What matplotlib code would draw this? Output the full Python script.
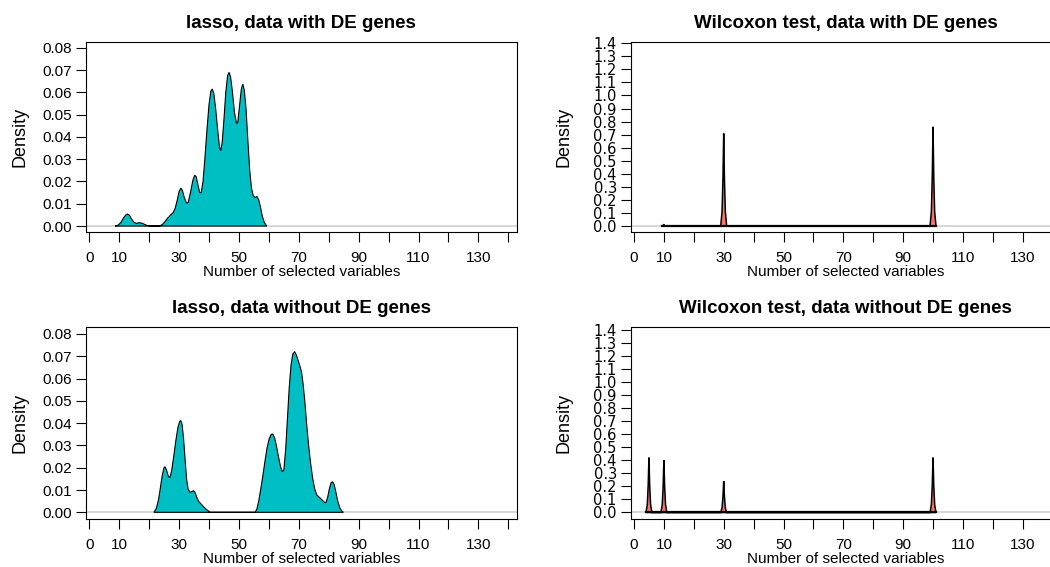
import matplotlib
matplotlib.use("Agg")
import matplotlib.pyplot as plt

plt.rcParams['font.family'] = ['Liberation Sans', 'DejaVu Sans']

# density curves
lasso_de_x = [8.6, 9.5, 10.5, 11.5, 12.3, 12.8, 13.4, 14.2, 15.0, 15.8, 16.6, 17.3, 18.2, 19.2,
              20.5, 23.5, 24.5, 25.3, 26.2, 27.2, 28.0, 28.7, 29.4, 30.0, 30.6, 31.1, 31.8, 32.5,
              33.0, 33.8, 34.6, 35.2, 35.7, 36.3, 36.9, 37.4, 38.0, 38.6, 39.3, 40.0, 40.6, 41.1,
              41.6, 42.2, 42.9, 43.5, 43.9, 44.4, 45.0, 45.6, 46.2, 46.7, 47.2, 47.8, 48.5, 49.2,
              49.6, 50.2, 50.8, 51.3, 51.8, 52.4, 53.0, 53.6, 54.2, 54.8, 55.4, 56.0, 56.6, 57.2,
              57.8, 58.5, 59.3]
lasso_de_y = [0.0, 0.0003, 0.0015, 0.0038, 0.0051, 0.0054, 0.0048, 0.0030, 0.0016, 0.0012, 0.0015,
              0.0014, 0.0009, 0.0003, 0.0, 0.0, 0.0008, 0.0020, 0.0036, 0.0050, 0.0060, 0.0080,
              0.0117, 0.0155, 0.0170, 0.0160, 0.0125, 0.0103, 0.0105, 0.0150, 0.0205, 0.0228,
              0.0222, 0.0185, 0.0150, 0.0150, 0.0200, 0.0300, 0.0430, 0.0545, 0.0605, 0.0615,
              0.0595, 0.0530, 0.0430, 0.0355, 0.0338, 0.0375, 0.0480, 0.0600, 0.0675, 0.0690,
              0.0670, 0.0605, 0.0510, 0.0460, 0.0465, 0.0540, 0.0615, 0.0637, 0.0610, 0.0520,
              0.0380, 0.0250, 0.0170, 0.0135, 0.0128, 0.0133, 0.0118, 0.0085, 0.0045, 0.0015, 0.0]

lasso_no_x = [21.6, 22.4, 23.1, 23.7, 24.3, 24.9, 25.3, 25.8, 26.4, 26.9, 27.5, 28.2, 28.9, 29.6,
              30.2, 30.6, 31.0, 31.5, 32.0, 32.5, 33.0, 33.6, 34.2, 34.8, 35.3, 35.9, 36.5, 37.3,
              38.2, 39.2, 40.3, 55.4, 56.0, 56.6, 57.3, 58.0, 58.7, 59.4, 60.1, 60.8, 61.3, 61.9,
              62.5, 63.2, 63.9, 64.5, 65.0, 65.6, 66.2, 66.8, 67.4, 68.0, 68.6, 69.2, 69.8, 70.4,
              70.9, 71.4, 72.0, 72.6, 73.2, 73.9, 74.6, 75.3, 76.0, 76.8, 77.6, 78.4, 79.0, 79.6,
              80.2, 80.8, 81.3, 81.8, 82.4, 83.0, 83.7, 84.4, 84.9]
lasso_no_y = [0.0, 0.0018, 0.0055, 0.0105, 0.0160, 0.0198, 0.0205, 0.0190, 0.0162, 0.0155, 0.0185,
              0.0250, 0.0320, 0.0380, 0.0408, 0.0411, 0.0395, 0.0330, 0.0240, 0.0150, 0.0105,
              0.0090, 0.0092, 0.0097, 0.0090, 0.0068, 0.0050, 0.0038, 0.0025, 0.0012, 0.0, 0.0,
              0.0015, 0.0050, 0.0105, 0.0165, 0.0230, 0.0290, 0.0330, 0.0350, 0.0351, 0.0335,
              0.0300, 0.0250, 0.0205, 0.0182, 0.0190, 0.0280, 0.0420, 0.0560, 0.0660, 0.0710,
              0.0721, 0.0705, 0.0680, 0.0655, 0.0630, 0.0580, 0.0500, 0.0400, 0.0310, 0.0225,
              0.0155, 0.0105, 0.0078, 0.0068, 0.0058, 0.0047, 0.0042, 0.0065, 0.0105, 0.0133,
              0.0137, 0.0125, 0.0090, 0.0050, 0.0020, 0.0005, 0.0]

wil_de_x = [9.5, 10.0, 10.5, 29.0, 29.45, 29.75, 30.0, 30.25, 30.55, 31.0,
            99.0, 99.45, 99.75, 100.0, 100.25, 100.55, 101.0]
wil_de_y = [0.0, 0.01, 0.0, 0.0, 0.11, 0.36, 0.71, 0.36, 0.11, 0.0,
            0.0, 0.11, 0.38, 0.76, 0.38, 0.11, 0.0]

wil_no_x = [4.0, 4.45, 4.75, 5.0, 5.25, 5.55, 6.0, 9.0, 9.45, 9.75, 10.0, 10.25, 10.55, 11.0,
            29.0, 29.45, 29.75, 30.0, 30.25, 30.55, 31.0, 99.0, 99.45, 99.75, 100.0, 100.25,
            100.55, 101.0]
wil_no_y = [0.0, 0.06, 0.21, 0.42, 0.21, 0.06, 0.0, 0.0, 0.06, 0.20, 0.40, 0.20, 0.06, 0.0,
            0.0, 0.035, 0.12, 0.24, 0.12, 0.035, 0.0, 0.0, 0.06, 0.21, 0.42, 0.21,
            0.06, 0.0]

titles = ["lasso, data with DE genes", "Wilcoxon test, data with DE genes",
          "lasso, data without DE genes", "Wilcoxon test, data without DE genes"]

x_ticks = list(range(0, 150, 10))
x_labels = ["0", "10", "", "30", "", "50", "", "70", "", "90", "", "110", "", "130", ""]
lasso_yticks = [0.00, 0.01, 0.02, 0.03, 0.04, 0.05, 0.06, 0.07, 0.08]
wil_yticks = [0.0, 0.1, 0.2, 0.3, 0.4, 0.5, 0.6, 0.7, 0.8, 0.9, 1.0, 1.1, 1.2, 1.3, 1.4]

TEAL = "#00BFC4"
SALMON = "#F8766D"

W, H = 1050, 567
fig = plt.figure(figsize=(W / 100, H / 100), dpi=100)


def make_ax(left, top, right, bottom):
    return fig.add_axes([left / W, 1 - bottom / H, (right - left) / W, (bottom - top) / H])


ax1 = make_ax(86, 42, 516.7, 232.5)
ax2 = make_ax(630.7, 42, 1061, 232.5)
ax3 = make_ax(86, 327.3, 516.7, 519)
ax4 = make_ax(630.7, 327.3, 1061, 519)

panels = [
    (ax1, lasso_de_x, lasso_de_y, TEAL, 0.8, (-0.0029, 0.0826), lasso_yticks, False, 10),
    (ax2, wil_de_x, wil_de_y, SALMON, 1.1, (-0.05, 1.41), wil_yticks, True, 15),
    (ax3, lasso_no_x, lasso_no_y, TEAL, 0.8, (-0.003, 0.083), lasso_yticks, False, 10),
    (ax4, wil_no_x, wil_no_y, SALMON, 1.1, (-0.05, 1.418), wil_yticks, True, 15),
]

for (ax, xs, ys, col, lw, ylim, yt, wil, lpad), title in zip(panels, titles):
    ax.axhline(0, color="#d0d0d0", lw=1.2, zorder=1)
    ax.fill(xs, ys, facecolor=col, edgecolor="black", lw=lw, zorder=2)
    if wil:
        # heavier baseline like the reference
        ax.plot([xs[0], xs[-1]], [0, 0], color="black", lw=1.6, zorder=3)
    ax.set_xlim(-1.1, 142.8)
    ax.set_ylim(*ylim)
    ax.set_xticks(x_ticks)
    ax.set_xticklabels(x_labels, fontsize=11)
    ax.set_yticks(yt)
    if wil:
        ax.set_yticklabels(["%.1f" % v for v in yt], fontsize=10.5, family="DejaVu Sans")
    else:
        ax.set_yticklabels(["%.2f" % v for v in yt], fontsize=11)
    ax.tick_params(axis="x", length=7.5, width=0.8, pad=6)
    ax.tick_params(axis="y", length=7, width=0.8, pad=3)
    for s in ax.spines.values():
        s.set_linewidth(0.8)
    ax.set_xlabel("Number of selected variables", fontsize=11, labelpad=0)
    ax.set_ylabel("Density", fontsize=13, labelpad=lpad)
    ax.set_title(title, fontsize=13.5, fontweight="bold", pad=10)

fig.savefig("out.png", dpi=100)
